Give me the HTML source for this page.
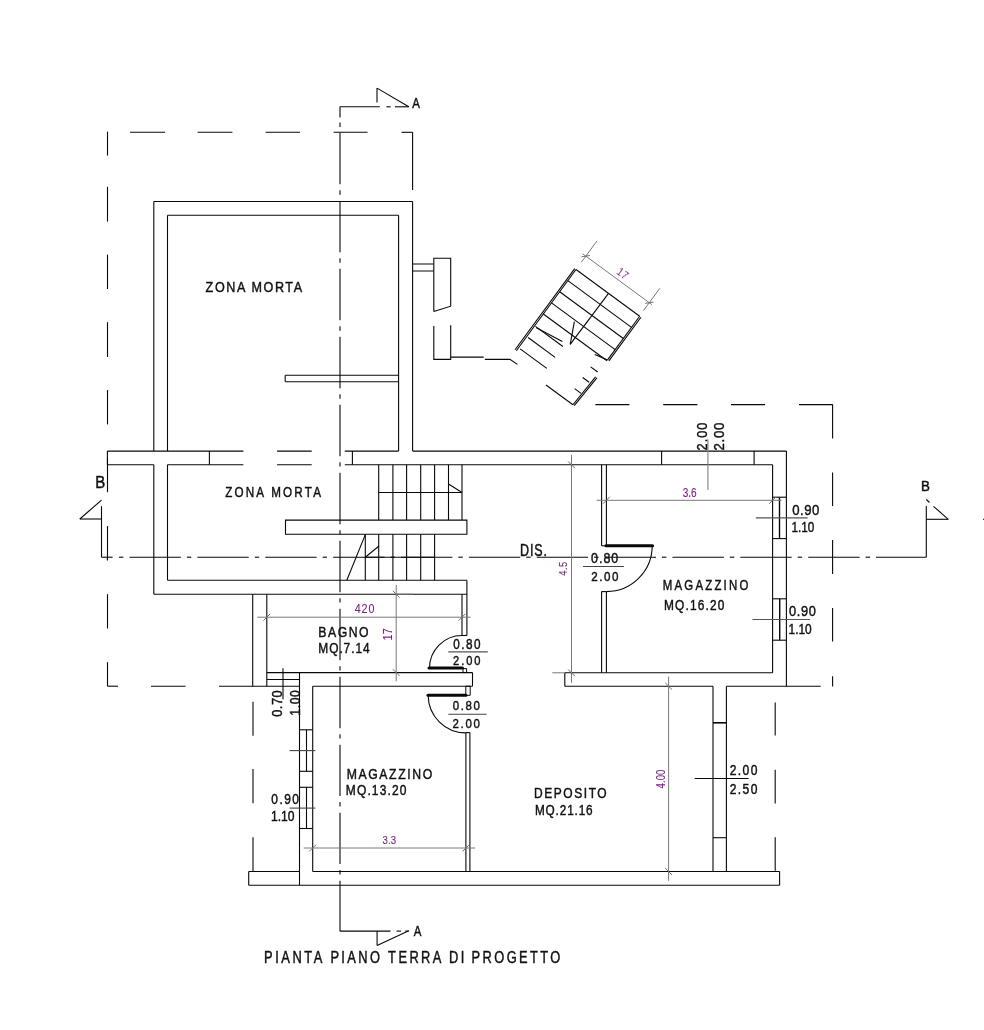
<!DOCTYPE html>
<html><head><meta charset="utf-8"><style>
html,body{margin:0;padding:0;background:#fff;}
svg{display:block;}
text{font-family:"Liberation Sans",sans-serif;}
</style></head><body>
<svg width="984" height="1030" viewBox="0 0 984 1030" stroke-linecap="butt">
<rect width="984" height="1030" fill="#fff"/>
<line x1="107.50" y1="131.60" x2="107.50" y2="155.60" stroke="#080808" stroke-width="1.1"/>
<line x1="107.50" y1="186.80" x2="107.50" y2="221.60" stroke="#080808" stroke-width="1.1"/>
<line x1="107.50" y1="254.60" x2="107.50" y2="289.00" stroke="#080808" stroke-width="1.1"/>
<line x1="107.50" y1="322.20" x2="107.50" y2="357.00" stroke="#080808" stroke-width="1.1"/>
<line x1="107.50" y1="390.00" x2="107.50" y2="424.40" stroke="#080808" stroke-width="1.1"/>
<line x1="107.50" y1="457.60" x2="107.50" y2="492.20" stroke="#080808" stroke-width="1.1"/>
<line x1="107.50" y1="526.00" x2="107.50" y2="560.00" stroke="#080808" stroke-width="1.1"/>
<line x1="107.50" y1="594.20" x2="107.50" y2="628.50" stroke="#080808" stroke-width="1.1"/>
<line x1="107.50" y1="662.20" x2="107.50" y2="686.20" stroke="#080808" stroke-width="1.1"/>
<line x1="130.00" y1="132.30" x2="165.00" y2="132.30" stroke="#080808" stroke-width="1.1"/>
<line x1="197.60" y1="132.30" x2="232.40" y2="132.30" stroke="#080808" stroke-width="1.1"/>
<line x1="265.60" y1="132.30" x2="300.00" y2="132.30" stroke="#080808" stroke-width="1.1"/>
<line x1="333.60" y1="132.30" x2="367.60" y2="132.30" stroke="#080808" stroke-width="1.1"/>
<line x1="401.50" y1="132.30" x2="412.60" y2="132.30" stroke="#080808" stroke-width="1.1"/>
<line x1="412.60" y1="132.30" x2="412.60" y2="190.00" stroke="#080808" stroke-width="1.1"/>
<line x1="107.50" y1="686.20" x2="118.00" y2="686.20" stroke="#080808" stroke-width="1.1"/>
<line x1="151.00" y1="686.20" x2="185.50" y2="686.20" stroke="#080808" stroke-width="1.1"/>
<line x1="219.00" y1="686.20" x2="253.00" y2="686.20" stroke="#080808" stroke-width="1.1"/>
<line x1="595.40" y1="404.60" x2="629.40" y2="404.60" stroke="#080808" stroke-width="1.1"/>
<line x1="663.20" y1="404.60" x2="697.40" y2="404.60" stroke="#080808" stroke-width="1.1"/>
<line x1="731.00" y1="404.60" x2="765.10" y2="404.60" stroke="#080808" stroke-width="1.1"/>
<line x1="799.00" y1="404.60" x2="832.70" y2="404.60" stroke="#080808" stroke-width="1.1"/>
<line x1="832.60" y1="404.60" x2="832.60" y2="438.40" stroke="#080808" stroke-width="1.1"/>
<line x1="832.60" y1="472.40" x2="832.60" y2="506.00" stroke="#080808" stroke-width="1.1"/>
<line x1="832.60" y1="540.00" x2="832.60" y2="574.00" stroke="#080808" stroke-width="1.1"/>
<line x1="832.60" y1="608.10" x2="832.60" y2="641.40" stroke="#080808" stroke-width="1.1"/>
<line x1="832.60" y1="676.20" x2="832.60" y2="686.40" stroke="#080808" stroke-width="1.1"/>
<line x1="786.40" y1="686.20" x2="820.70" y2="686.20" stroke="#080808" stroke-width="1.1"/>
<line x1="253.00" y1="701.70" x2="253.00" y2="735.70" stroke="#080808" stroke-width="1.1"/>
<line x1="253.00" y1="769.10" x2="253.00" y2="803.30" stroke="#080808" stroke-width="1.1"/>
<line x1="253.00" y1="837.20" x2="253.00" y2="871.00" stroke="#080808" stroke-width="1.1"/>
<line x1="775.20" y1="702.50" x2="775.20" y2="735.50" stroke="#080808" stroke-width="1.1"/>
<line x1="775.20" y1="769.80" x2="775.20" y2="803.40" stroke="#080808" stroke-width="1.1"/>
<line x1="775.20" y1="837.20" x2="775.20" y2="870.80" stroke="#080808" stroke-width="1.1"/>
<line x1="340.00" y1="106.80" x2="340.00" y2="117.60" stroke="#080808" stroke-width="1.1"/>
<line x1="340.00" y1="122.50" x2="340.00" y2="127.00" stroke="#080808" stroke-width="1.1"/>
<line x1="340.00" y1="132.90" x2="340.00" y2="184.30" stroke="#080808" stroke-width="1.1"/>
<line x1="340.00" y1="190.30" x2="340.00" y2="194.70" stroke="#080808" stroke-width="1.1"/>
<line x1="340.00" y1="200.88" x2="340.00" y2="252.28" stroke="#080808" stroke-width="1.1"/>
<line x1="340.00" y1="258.28" x2="340.00" y2="262.68" stroke="#080808" stroke-width="1.1"/>
<line x1="340.00" y1="268.86" x2="340.00" y2="320.26" stroke="#080808" stroke-width="1.1"/>
<line x1="340.00" y1="326.26" x2="340.00" y2="330.66" stroke="#080808" stroke-width="1.1"/>
<line x1="340.00" y1="336.84" x2="340.00" y2="388.24" stroke="#080808" stroke-width="1.1"/>
<line x1="340.00" y1="394.24" x2="340.00" y2="398.64" stroke="#080808" stroke-width="1.1"/>
<line x1="340.00" y1="404.82" x2="340.00" y2="456.22" stroke="#080808" stroke-width="1.1"/>
<line x1="340.00" y1="462.22" x2="340.00" y2="466.62" stroke="#080808" stroke-width="1.1"/>
<line x1="340.00" y1="472.80" x2="340.00" y2="524.20" stroke="#080808" stroke-width="1.1"/>
<line x1="340.00" y1="530.20" x2="340.00" y2="534.60" stroke="#080808" stroke-width="1.1"/>
<line x1="340.00" y1="540.78" x2="340.00" y2="592.18" stroke="#080808" stroke-width="1.1"/>
<line x1="340.00" y1="598.18" x2="340.00" y2="602.58" stroke="#080808" stroke-width="1.1"/>
<line x1="340.00" y1="608.76" x2="340.00" y2="660.16" stroke="#080808" stroke-width="1.1"/>
<line x1="340.00" y1="666.16" x2="340.00" y2="670.56" stroke="#080808" stroke-width="1.1"/>
<line x1="340.00" y1="676.74" x2="340.00" y2="728.14" stroke="#080808" stroke-width="1.1"/>
<line x1="340.00" y1="734.14" x2="340.00" y2="738.54" stroke="#080808" stroke-width="1.1"/>
<line x1="340.00" y1="744.72" x2="340.00" y2="796.12" stroke="#080808" stroke-width="1.1"/>
<line x1="340.00" y1="802.12" x2="340.00" y2="806.52" stroke="#080808" stroke-width="1.1"/>
<line x1="340.00" y1="812.70" x2="340.00" y2="864.10" stroke="#080808" stroke-width="1.1"/>
<line x1="340.00" y1="870.10" x2="340.00" y2="874.50" stroke="#080808" stroke-width="1.1"/>
<line x1="340.00" y1="880.68" x2="340.00" y2="931.10" stroke="#080808" stroke-width="1.1"/>
<line x1="339.80" y1="106.80" x2="379.80" y2="106.80" stroke="#080808" stroke-width="1.1"/>
<line x1="386.40" y1="106.80" x2="390.60" y2="106.80" stroke="#080808" stroke-width="1.1"/>
<line x1="395.00" y1="106.80" x2="408.80" y2="106.80" stroke="#080808" stroke-width="1.1"/>
<line x1="377.00" y1="88.10" x2="377.00" y2="102.40" stroke="#080808" stroke-width="1.1"/>
<line x1="377.00" y1="88.10" x2="408.80" y2="106.80" stroke="#080808" stroke-width="1.1"/>
<line x1="339.80" y1="931.10" x2="390.50" y2="931.10" stroke="#080808" stroke-width="1.1"/>
<line x1="396.60" y1="931.10" x2="401.10" y2="931.10" stroke="#080808" stroke-width="1.1"/>
<line x1="405.20" y1="931.10" x2="408.80" y2="931.10" stroke="#080808" stroke-width="1.1"/>
<line x1="377.10" y1="931.10" x2="377.10" y2="945.40" stroke="#080808" stroke-width="1.1"/>
<line x1="377.10" y1="945.40" x2="408.80" y2="930.80" stroke="#080808" stroke-width="1.1"/>
<line x1="101.50" y1="557.20" x2="112.60" y2="557.20" stroke="#080808" stroke-width="1.1"/>
<line x1="118.90" y1="557.20" x2="123.40" y2="557.20" stroke="#080808" stroke-width="1.1"/>
<line x1="129.50" y1="557.20" x2="180.90" y2="557.20" stroke="#080808" stroke-width="1.1"/>
<line x1="186.90" y1="557.20" x2="191.30" y2="557.20" stroke="#080808" stroke-width="1.1"/>
<line x1="197.37" y1="557.20" x2="248.77" y2="557.20" stroke="#080808" stroke-width="1.1"/>
<line x1="254.77" y1="557.20" x2="259.17" y2="557.20" stroke="#080808" stroke-width="1.1"/>
<line x1="265.24" y1="557.20" x2="316.64" y2="557.20" stroke="#080808" stroke-width="1.1"/>
<line x1="322.64" y1="557.20" x2="327.04" y2="557.20" stroke="#080808" stroke-width="1.1"/>
<line x1="333.11" y1="557.20" x2="384.51" y2="557.20" stroke="#080808" stroke-width="1.1"/>
<line x1="390.51" y1="557.20" x2="394.91" y2="557.20" stroke="#080808" stroke-width="1.1"/>
<line x1="400.98" y1="557.20" x2="452.38" y2="557.20" stroke="#080808" stroke-width="1.1"/>
<line x1="458.38" y1="557.20" x2="462.78" y2="557.20" stroke="#080808" stroke-width="1.1"/>
<line x1="468.85" y1="557.20" x2="520.25" y2="557.20" stroke="#080808" stroke-width="1.1"/>
<line x1="526.25" y1="557.20" x2="530.65" y2="557.20" stroke="#080808" stroke-width="1.1"/>
<line x1="536.72" y1="557.20" x2="588.12" y2="557.20" stroke="#080808" stroke-width="1.1"/>
<line x1="594.12" y1="557.20" x2="598.52" y2="557.20" stroke="#080808" stroke-width="1.1"/>
<line x1="604.59" y1="557.20" x2="655.99" y2="557.20" stroke="#080808" stroke-width="1.1"/>
<line x1="661.99" y1="557.20" x2="666.39" y2="557.20" stroke="#080808" stroke-width="1.1"/>
<line x1="672.46" y1="557.20" x2="723.86" y2="557.20" stroke="#080808" stroke-width="1.1"/>
<line x1="729.86" y1="557.20" x2="734.26" y2="557.20" stroke="#080808" stroke-width="1.1"/>
<line x1="740.33" y1="557.20" x2="791.73" y2="557.20" stroke="#080808" stroke-width="1.1"/>
<line x1="797.73" y1="557.20" x2="802.13" y2="557.20" stroke="#080808" stroke-width="1.1"/>
<line x1="808.20" y1="557.20" x2="859.60" y2="557.20" stroke="#080808" stroke-width="1.1"/>
<line x1="865.60" y1="557.20" x2="870.00" y2="557.20" stroke="#080808" stroke-width="1.1"/>
<line x1="876.07" y1="557.20" x2="926.30" y2="557.20" stroke="#080808" stroke-width="1.1"/>
<line x1="101.50" y1="506.20" x2="101.50" y2="557.20" stroke="#080808" stroke-width="1.1"/>
<line x1="79.80" y1="519.00" x2="101.50" y2="519.00" stroke="#080808" stroke-width="1.1"/>
<line x1="79.80" y1="519.00" x2="101.50" y2="500.10" stroke="#080808" stroke-width="1.1"/>
<line x1="926.30" y1="506.10" x2="926.30" y2="557.20" stroke="#080808" stroke-width="1.1"/>
<line x1="926.30" y1="519.30" x2="948.30" y2="519.30" stroke="#080808" stroke-width="1.1"/>
<line x1="926.30" y1="499.50" x2="929.50" y2="502.50" stroke="#080808" stroke-width="1.1"/>
<line x1="933.50" y1="506.30" x2="948.30" y2="519.30" stroke="#080808" stroke-width="1.1"/>
<line x1="983.00" y1="519.30" x2="984.00" y2="519.30" stroke="#080808" stroke-width="1.1"/>
<line x1="107.40" y1="557.20" x2="107.40" y2="560.50" stroke="#080808" stroke-width="1.1"/>
<line x1="153.80" y1="201.50" x2="412.60" y2="201.50" stroke="#080808" stroke-width="1.1"/>
<line x1="153.80" y1="201.50" x2="153.80" y2="451.10" stroke="#080808" stroke-width="1.1"/>
<line x1="412.60" y1="201.50" x2="412.60" y2="451.10" stroke="#080808" stroke-width="1.1"/>
<line x1="167.50" y1="215.30" x2="398.60" y2="215.30" stroke="#080808" stroke-width="1.1"/>
<line x1="167.50" y1="215.30" x2="167.50" y2="451.10" stroke="#080808" stroke-width="1.1"/>
<line x1="398.60" y1="215.30" x2="398.60" y2="451.10" stroke="#080808" stroke-width="1.1"/>
<line x1="285.20" y1="375.30" x2="398.60" y2="375.30" stroke="#080808" stroke-width="1.1"/>
<line x1="285.20" y1="381.70" x2="398.60" y2="381.70" stroke="#080808" stroke-width="1.1"/>
<line x1="285.20" y1="375.30" x2="285.20" y2="381.70" stroke="#080808" stroke-width="1.1"/>
<line x1="412.60" y1="264.00" x2="433.80" y2="264.00" stroke="#080808" stroke-width="1.0"/>
<line x1="412.60" y1="271.00" x2="433.80" y2="271.00" stroke="#080808" stroke-width="1.0"/>
<path d="M433.80,311.60 L433.80,258.30 L450.70,258.30 L450.70,306.20 L433.80,311.60" fill="none" stroke="#080808" stroke-width="1.1"/>
<path d="M433.80,325.90 L433.80,359.40 L450.70,359.40 L450.70,325.20" fill="none" stroke="#080808" stroke-width="1.1"/>
<line x1="450.70" y1="357.10" x2="483.70" y2="357.10" stroke="#080808" stroke-width="1.1"/>
<path d="M484.90,359.40 L509.90,359.40 L517.40,364.40" fill="none" stroke="#080808" stroke-width="1.1"/>
<line x1="107.40" y1="451.10" x2="243.40" y2="451.10" stroke="#080808" stroke-width="1.1"/>
<line x1="277.10" y1="451.10" x2="311.70" y2="451.10" stroke="#080808" stroke-width="1.1"/>
<line x1="344.80" y1="451.10" x2="398.60" y2="451.10" stroke="#080808" stroke-width="1.1"/>
<line x1="412.60" y1="451.10" x2="786.40" y2="451.10" stroke="#080808" stroke-width="1.1"/>
<line x1="107.40" y1="464.80" x2="153.80" y2="464.80" stroke="#080808" stroke-width="1.1"/>
<line x1="167.50" y1="464.80" x2="243.40" y2="464.80" stroke="#080808" stroke-width="1.1"/>
<line x1="277.10" y1="464.80" x2="311.70" y2="464.80" stroke="#080808" stroke-width="1.1"/>
<line x1="344.80" y1="464.80" x2="772.60" y2="464.80" stroke="#080808" stroke-width="1.1"/>
<line x1="107.40" y1="451.10" x2="107.40" y2="464.80" stroke="#080808" stroke-width="1.1"/>
<line x1="209.40" y1="451.10" x2="209.40" y2="464.80" stroke="#080808" stroke-width="1.1"/>
<line x1="352.40" y1="451.10" x2="352.40" y2="464.80" stroke="#080808" stroke-width="1.1"/>
<line x1="661.60" y1="451.10" x2="661.60" y2="464.80" stroke="#080808" stroke-width="1.1"/>
<line x1="754.10" y1="451.10" x2="754.10" y2="464.80" stroke="#080808" stroke-width="1.1"/>
<line x1="786.40" y1="451.10" x2="786.40" y2="686.30" stroke="#080808" stroke-width="1.1"/>
<line x1="772.60" y1="464.80" x2="772.60" y2="672.80" stroke="#080808" stroke-width="1.1"/>
<line x1="153.80" y1="464.80" x2="153.80" y2="594.20" stroke="#080808" stroke-width="1.1"/>
<line x1="167.50" y1="464.80" x2="167.50" y2="580.20" stroke="#080808" stroke-width="1.1"/>
<line x1="167.50" y1="580.20" x2="466.90" y2="580.20" stroke="#080808" stroke-width="1.1"/>
<line x1="153.80" y1="594.20" x2="466.90" y2="594.20" stroke="#080808" stroke-width="1.1"/>
<line x1="466.90" y1="580.20" x2="466.90" y2="635.50" stroke="#080808" stroke-width="1.1"/>
<line x1="378.70" y1="464.80" x2="378.70" y2="520.10" stroke="#080808" stroke-width="1.1"/>
<line x1="392.90" y1="464.80" x2="392.90" y2="520.10" stroke="#080808" stroke-width="1.1"/>
<line x1="406.60" y1="464.80" x2="406.60" y2="520.10" stroke="#080808" stroke-width="1.1"/>
<line x1="420.70" y1="464.80" x2="420.70" y2="520.10" stroke="#080808" stroke-width="1.1"/>
<line x1="434.60" y1="464.80" x2="434.60" y2="520.10" stroke="#080808" stroke-width="1.1"/>
<line x1="448.50" y1="464.80" x2="448.50" y2="520.10" stroke="#080808" stroke-width="1.1"/>
<line x1="462.00" y1="464.80" x2="462.00" y2="520.10" stroke="#080808" stroke-width="1.1"/>
<line x1="378.70" y1="492.50" x2="462.00" y2="492.50" stroke="#080808" stroke-width="1.1"/>
<line x1="448.50" y1="484.00" x2="462.00" y2="492.50" stroke="#080808" stroke-width="1.1"/>
<path d="M285.50,520.10 L466.90,520.10 L466.90,534.20 L285.50,534.20 Z" fill="none" stroke="#080808" stroke-width="1.1"/>
<line x1="365.30" y1="534.20" x2="365.30" y2="580.20" stroke="#080808" stroke-width="1.1"/>
<line x1="378.70" y1="534.20" x2="378.70" y2="580.20" stroke="#080808" stroke-width="1.1"/>
<line x1="392.90" y1="534.20" x2="392.90" y2="580.20" stroke="#080808" stroke-width="1.1"/>
<line x1="406.60" y1="534.20" x2="406.60" y2="580.20" stroke="#080808" stroke-width="1.1"/>
<line x1="420.70" y1="534.20" x2="420.70" y2="580.20" stroke="#080808" stroke-width="1.1"/>
<line x1="434.60" y1="534.20" x2="434.60" y2="580.20" stroke="#080808" stroke-width="1.1"/>
<line x1="365.30" y1="557.20" x2="434.60" y2="557.20" stroke="#080808" stroke-width="1.1"/>
<line x1="365.30" y1="534.60" x2="346.80" y2="580.20" stroke="#080808" stroke-width="1.1"/>
<line x1="365.30" y1="557.20" x2="378.70" y2="546.30" stroke="#080808" stroke-width="1.1"/>
<line x1="252.70" y1="594.20" x2="252.70" y2="686.20" stroke="#080808" stroke-width="1.1"/>
<line x1="266.80" y1="594.20" x2="266.80" y2="686.20" stroke="#080808" stroke-width="1.1"/>
<line x1="266.80" y1="672.60" x2="472.50" y2="672.60" stroke="#080808" stroke-width="1.1"/>
<line x1="266.80" y1="679.50" x2="299.50" y2="679.50" stroke="#080808" stroke-width="1.1"/>
<line x1="253.00" y1="686.20" x2="299.50" y2="686.20" stroke="#080808" stroke-width="1.1"/>
<line x1="299.50" y1="672.60" x2="299.50" y2="885.20" stroke="#080808" stroke-width="1.1"/>
<line x1="312.70" y1="686.20" x2="312.70" y2="871.50" stroke="#080808" stroke-width="1.1"/>
<line x1="312.70" y1="686.20" x2="472.50" y2="686.20" stroke="#080808" stroke-width="1.1"/>
<line x1="472.50" y1="672.60" x2="472.50" y2="686.20" stroke="#080808" stroke-width="1.1"/>
<line x1="462.00" y1="594.20" x2="462.00" y2="635.50" stroke="#080808" stroke-width="1.1"/>
<line x1="462.00" y1="635.50" x2="466.90" y2="635.50" stroke="#080808" stroke-width="1.1"/>
<path d="M462.00,635.50 A32.50,32.50 0 0 0 429.50,668.00" fill="none" stroke="#080808" stroke-width="1.1"/>
<line x1="429.00" y1="668.00" x2="462.50" y2="668.00" stroke="#080808" stroke-width="3.0" stroke-linecap="round"/>
<path d="M463.00,668.60 L466.60,668.60 L466.60,672.60 L463.00,672.60 Z" fill="none" stroke="#080808" stroke-width="1.0"/>
<path d="M465.80,686.20 L470.20,686.20 L470.20,695.30 L465.80,695.30 Z" fill="none" stroke="#080808" stroke-width="1.0"/>
<line x1="428.00" y1="695.30" x2="466.00" y2="695.30" stroke="#080808" stroke-width="3.0" stroke-linecap="round"/>
<path d="M428.20,695.30 A37.60,37.60 0 0 0 465.80,732.90" fill="none" stroke="#080808" stroke-width="1.1"/>
<line x1="465.90" y1="732.60" x2="465.90" y2="871.50" stroke="#080808" stroke-width="1.1"/>
<line x1="469.90" y1="732.60" x2="469.90" y2="871.50" stroke="#080808" stroke-width="1.1"/>
<line x1="465.90" y1="732.60" x2="469.90" y2="732.60" stroke="#080808" stroke-width="1.1"/>
<line x1="299.50" y1="729.80" x2="312.70" y2="729.80" stroke="#080808" stroke-width="1.1"/>
<line x1="299.50" y1="771.30" x2="312.70" y2="771.30" stroke="#080808" stroke-width="1.1"/>
<line x1="306.50" y1="729.80" x2="306.50" y2="771.30" stroke="#080808" stroke-width="1.1"/>
<line x1="299.50" y1="787.30" x2="312.70" y2="787.30" stroke="#080808" stroke-width="1.1"/>
<line x1="299.50" y1="828.50" x2="312.70" y2="828.50" stroke="#080808" stroke-width="1.1"/>
<line x1="306.50" y1="787.30" x2="306.50" y2="828.50" stroke="#080808" stroke-width="1.1"/>
<line x1="289.60" y1="750.60" x2="315.30" y2="750.60" stroke="#444" stroke-width="1.1"/>
<line x1="289.60" y1="808.10" x2="315.30" y2="808.10" stroke="#444" stroke-width="1.1"/>
<line x1="283.00" y1="668.20" x2="283.00" y2="699.20" stroke="#080808" stroke-width="1.1"/>
<line x1="248.70" y1="871.50" x2="299.50" y2="871.50" stroke="#080808" stroke-width="1.1"/>
<line x1="312.70" y1="871.50" x2="779.60" y2="871.50" stroke="#080808" stroke-width="1.1"/>
<line x1="248.70" y1="885.20" x2="779.60" y2="885.20" stroke="#080808" stroke-width="1.1"/>
<line x1="248.70" y1="871.50" x2="248.70" y2="885.20" stroke="#080808" stroke-width="1.1"/>
<line x1="779.60" y1="871.50" x2="779.60" y2="885.20" stroke="#080808" stroke-width="1.1"/>
<line x1="601.60" y1="464.80" x2="601.60" y2="545.80" stroke="#080808" stroke-width="1.1"/>
<line x1="606.40" y1="464.80" x2="606.40" y2="545.80" stroke="#080808" stroke-width="1.1"/>
<line x1="601.60" y1="545.80" x2="606.40" y2="545.80" stroke="#080808" stroke-width="1.1"/>
<line x1="601.60" y1="591.60" x2="601.60" y2="672.80" stroke="#080808" stroke-width="1.1"/>
<line x1="606.40" y1="591.60" x2="606.40" y2="672.80" stroke="#080808" stroke-width="1.1"/>
<line x1="601.60" y1="591.60" x2="606.40" y2="591.60" stroke="#080808" stroke-width="1.1"/>
<line x1="606.00" y1="545.80" x2="652.60" y2="545.80" stroke="#080808" stroke-width="3.0" stroke-linecap="round"/>
<path d="M652.20,545.80 A45.80,45.80 0 0 1 606.40,591.60" fill="none" stroke="#080808" stroke-width="1.1"/>
<line x1="564.80" y1="672.80" x2="772.60" y2="672.80" stroke="#080808" stroke-width="1.1"/>
<line x1="564.80" y1="686.20" x2="713.00" y2="686.20" stroke="#080808" stroke-width="1.1"/>
<line x1="726.40" y1="686.20" x2="786.40" y2="686.20" stroke="#080808" stroke-width="1.1"/>
<line x1="564.80" y1="672.80" x2="564.80" y2="686.20" stroke="#080808" stroke-width="1.1"/>
<line x1="772.60" y1="497.20" x2="786.40" y2="497.20" stroke="#080808" stroke-width="1.1"/>
<line x1="772.60" y1="538.60" x2="786.40" y2="538.60" stroke="#080808" stroke-width="1.1"/>
<line x1="779.50" y1="497.20" x2="779.50" y2="538.60" stroke="#080808" stroke-width="1.4"/>
<line x1="772.60" y1="598.80" x2="786.40" y2="598.80" stroke="#080808" stroke-width="1.1"/>
<line x1="772.60" y1="640.20" x2="786.40" y2="640.20" stroke="#080808" stroke-width="1.1"/>
<line x1="779.70" y1="598.80" x2="779.70" y2="640.20" stroke="#080808" stroke-width="1.4"/>
<line x1="755.80" y1="517.90" x2="807.70" y2="517.90" stroke="#555" stroke-width="1.2"/>
<line x1="752.50" y1="619.50" x2="809.90" y2="619.50" stroke="#555" stroke-width="1.2"/>
<line x1="707.90" y1="439.30" x2="707.90" y2="490.00" stroke="#808080" stroke-width="1.1"/>
<line x1="713.00" y1="686.20" x2="713.00" y2="871.50" stroke="#080808" stroke-width="1.1"/>
<line x1="726.40" y1="686.20" x2="726.40" y2="871.50" stroke="#080808" stroke-width="1.1"/>
<line x1="713.00" y1="722.80" x2="726.40" y2="722.80" stroke="#080808" stroke-width="1.6"/>
<line x1="713.00" y1="837.70" x2="726.40" y2="837.70" stroke="#080808" stroke-width="1.1"/>
<line x1="694.60" y1="778.50" x2="748.70" y2="778.50" stroke="#080808" stroke-width="1.1"/>
<line x1="583.00" y1="566.50" x2="623.90" y2="566.50" stroke="#444" stroke-width="1.1"/>
<line x1="448.30" y1="651.90" x2="487.80" y2="651.90" stroke="#555" stroke-width="1.2"/>
<line x1="448.30" y1="714.30" x2="486.60" y2="714.30" stroke="#444" stroke-width="1.1"/>
<line x1="596.60" y1="500.30" x2="781.60" y2="500.30" stroke="#787878" stroke-width="1.0"/>
<line x1="603.00" y1="503.70" x2="609.80" y2="496.90" stroke="#707070" stroke-width="1.0"/>
<line x1="769.20" y1="503.70" x2="776.00" y2="496.90" stroke="#707070" stroke-width="1.0"/>
<line x1="571.50" y1="454.90" x2="571.50" y2="682.70" stroke="#787878" stroke-width="1.0"/>
<line x1="552.30" y1="672.80" x2="564.80" y2="672.80" stroke="#787878" stroke-width="1.0"/>
<line x1="568.10" y1="461.40" x2="574.90" y2="468.20" stroke="#707070" stroke-width="1.0"/>
<line x1="568.10" y1="669.40" x2="574.90" y2="676.20" stroke="#707070" stroke-width="1.0"/>
<line x1="257.20" y1="617.20" x2="470.60" y2="617.20" stroke="#787878" stroke-width="1.0"/>
<line x1="263.40" y1="620.60" x2="270.20" y2="613.80" stroke="#707070" stroke-width="1.0"/>
<line x1="458.60" y1="620.60" x2="465.40" y2="613.80" stroke="#707070" stroke-width="1.0"/>
<line x1="396.20" y1="584.90" x2="396.20" y2="681.20" stroke="#787878" stroke-width="1.0"/>
<line x1="396.20" y1="594.20" x2="413.00" y2="594.20" stroke="#787878" stroke-width="1.0"/>
<line x1="392.80" y1="590.80" x2="399.60" y2="597.60" stroke="#707070" stroke-width="1.0"/>
<line x1="392.80" y1="669.20" x2="399.60" y2="676.00" stroke="#707070" stroke-width="1.0"/>
<line x1="303.70" y1="848.00" x2="475.10" y2="848.00" stroke="#787878" stroke-width="1.0"/>
<line x1="309.30" y1="851.40" x2="316.10" y2="844.60" stroke="#707070" stroke-width="1.0"/>
<line x1="462.50" y1="851.40" x2="469.30" y2="844.60" stroke="#707070" stroke-width="1.0"/>
<line x1="668.60" y1="676.60" x2="668.60" y2="880.80" stroke="#787878" stroke-width="1.0"/>
<line x1="665.20" y1="682.80" x2="672.00" y2="689.60" stroke="#707070" stroke-width="1.0"/>
<line x1="665.20" y1="868.10" x2="672.00" y2="874.90" stroke="#707070" stroke-width="1.0"/>
<line x1="576.00" y1="269.50" x2="516.33" y2="350.74" stroke="#080808" stroke-width="1.1"/>
<line x1="574.71" y1="268.55" x2="515.04" y2="349.79" stroke="#080808" stroke-width="1.1"/>
<line x1="639.67" y1="316.27" x2="607.58" y2="359.95" stroke="#080808" stroke-width="1.1"/>
<line x1="640.96" y1="317.22" x2="608.87" y2="360.90" stroke="#080808" stroke-width="1.1"/>
<line x1="595.59" y1="376.95" x2="572.94" y2="404.74" stroke="#080808" stroke-width="1.1"/>
<line x1="596.88" y1="377.90" x2="574.23" y2="405.68" stroke="#080808" stroke-width="1.1"/>
<line x1="576.00" y1="269.50" x2="639.67" y2="316.27" stroke="#080808" stroke-width="1.1"/>
<line x1="567.83" y1="280.62" x2="631.50" y2="327.39" stroke="#080808" stroke-width="1.1"/>
<line x1="559.66" y1="291.74" x2="623.33" y2="338.51" stroke="#080808" stroke-width="1.1"/>
<line x1="551.49" y1="302.87" x2="615.16" y2="349.63" stroke="#080808" stroke-width="1.1"/>
<line x1="543.32" y1="313.99" x2="606.99" y2="360.76" stroke="#080808" stroke-width="1.1"/>
<line x1="608.48" y1="293.36" x2="570.22" y2="344.42" stroke="#080808" stroke-width="1.1"/>
<line x1="574.38" y1="321.54" x2="570.22" y2="344.42" stroke="#080808" stroke-width="1.1"/>
<line x1="594.81" y1="354.54" x2="607.58" y2="359.95" stroke="#080808" stroke-width="1.1"/>
<line x1="535.48" y1="326.35" x2="562.88" y2="346.47" stroke="#080808" stroke-width="1.1"/>
<line x1="536.34" y1="327.72" x2="562.34" y2="341.48" stroke="#080808" stroke-width="1.1"/>
<line x1="528.11" y1="337.56" x2="555.11" y2="357.39" stroke="#080808" stroke-width="1.1"/>
<line x1="520.19" y1="348.86" x2="546.78" y2="368.40" stroke="#080808" stroke-width="1.1"/>
<line x1="590.61" y1="366.84" x2="597.70" y2="372.05" stroke="#080808" stroke-width="1.1"/>
<line x1="582.65" y1="377.50" x2="589.18" y2="382.29" stroke="#080808" stroke-width="1.1"/>
<line x1="574.62" y1="388.60" x2="581.07" y2="393.34" stroke="#080808" stroke-width="1.1"/>
<line x1="545.97" y1="385.04" x2="572.94" y2="404.74" stroke="#080808" stroke-width="1.1"/>
<line x1="582.60" y1="253.75" x2="651.91" y2="304.67" stroke="#787878" stroke-width="1.0"/>
<line x1="581.21" y1="262.41" x2="597.02" y2="240.89" stroke="#787878" stroke-width="1.0"/>
<line x1="643.57" y1="310.45" x2="659.85" y2="288.29" stroke="#787878" stroke-width="1.0"/>
<line x1="581.63" y1="256.76" x2="590.02" y2="255.48" stroke="#707070" stroke-width="1.0"/>
<line x1="645.06" y1="303.35" x2="653.45" y2="302.07" stroke="#707070" stroke-width="1.0"/>
<g opacity="0.999">
<text transform="translate(205.61,292.00) scale(0.820,1)" font-size="15.36" letter-spacing="1.96" fill="#111" stroke="#111" stroke-width="0.45">ZONA MORTA</text>
<text transform="translate(225.14,496.60) scale(0.820,1)" font-size="14.22" letter-spacing="2.69" fill="#111" stroke="#111" stroke-width="0.45">ZONA MORTA</text>
<text transform="translate(520.12,556.00) scale(0.800,1)" font-size="15.64" letter-spacing="1.07" fill="#111" stroke="#111" stroke-width="0.45">DIS.</text>
<text transform="translate(662.81,590.00) scale(0.820,1)" font-size="13.94" letter-spacing="2.68" fill="#111" stroke="#111" stroke-width="0.45">MAGAZZINO</text>
<text transform="translate(663.97,610.00) scale(0.820,1)" font-size="14.51" letter-spacing="1.43" fill="#111" stroke="#111" stroke-width="0.45">MQ.16.20</text>
<text transform="translate(318.34,637.30) scale(0.820,1)" font-size="14.93" letter-spacing="1.82" fill="#111" stroke="#111" stroke-width="0.45">BAGNO</text>
<text transform="translate(318.37,653.20) scale(0.820,1)" font-size="14.51" letter-spacing="1.14" fill="#111" stroke="#111" stroke-width="0.45">MQ.7.14</text>
<text transform="translate(346.64,779.00) scale(0.820,1)" font-size="14.93" letter-spacing="1.95" fill="#111" stroke="#111" stroke-width="0.45">MAGAZZINO</text>
<text transform="translate(345.86,795.40) scale(0.820,1)" font-size="14.65" letter-spacing="1.36" fill="#111" stroke="#111" stroke-width="0.45">MQ.13.20</text>
<text transform="translate(533.96,797.80) scale(0.820,1)" font-size="14.65" letter-spacing="1.90" fill="#111" stroke="#111" stroke-width="0.45">DEPOSITO</text>
<text transform="translate(534.88,814.80) scale(0.820,1)" font-size="14.36" letter-spacing="1.06" fill="#111" stroke="#111" stroke-width="0.45">MQ.21.16</text>
<text transform="translate(264.09,962.80) scale(0.780,1)" font-size="16.50" letter-spacing="3.29" fill="#111" stroke="#111" stroke-width="0.45">PIANTA</text>
<text transform="translate(330.39,962.80) scale(0.780,1)" font-size="16.50" letter-spacing="3.05" fill="#111" stroke="#111" stroke-width="0.45">PIANO</text>
<text transform="translate(388.10,962.80) scale(0.780,1)" font-size="16.50" letter-spacing="3.12" fill="#111" stroke="#111" stroke-width="0.45">TERRA</text>
<text transform="translate(449.09,962.80) scale(0.780,1)" font-size="16.50" letter-spacing="2.95" fill="#111" stroke="#111" stroke-width="0.45">DI</text>
<text transform="translate(471.59,962.80) scale(0.780,1)" font-size="16.50" letter-spacing="3.07" fill="#111" stroke="#111" stroke-width="0.45">PROGETTO</text>
<text transform="translate(412.30,107.60) scale(0.782,1)" font-size="14.65" letter-spacing="0.00" fill="#111" stroke="#111" stroke-width="0.45">A</text>
<text transform="translate(413.80,935.90) scale(0.798,1)" font-size="14.36" letter-spacing="0.00" fill="#111" stroke="#111" stroke-width="0.45">A</text>
<text transform="translate(95.23,488.00) scale(0.958,1)" font-size="15.64" letter-spacing="0.00" fill="#111" stroke="#111" stroke-width="0.45">B</text>
<text transform="translate(920.96,490.70) scale(0.958,1)" font-size="13.94" letter-spacing="0.00" fill="#111" stroke="#111" stroke-width="0.45">B</text>
<text transform="translate(591.11,562.70) scale(0.850,1)" font-size="14.65" letter-spacing="1.16" fill="#111" stroke="#111" stroke-width="0.45">0.80</text>
<text transform="translate(591.16,580.80) scale(0.850,1)" font-size="13.65" letter-spacing="1.86" fill="#111" stroke="#111" stroke-width="0.45">2.00</text>
<text transform="translate(453.13,648.70) scale(0.850,1)" font-size="13.80" letter-spacing="1.82" fill="#111" stroke="#111" stroke-width="0.45">0.80</text>
<text transform="translate(452.98,665.40) scale(0.850,1)" font-size="13.08" letter-spacing="2.33" fill="#111" stroke="#111" stroke-width="0.45">2.00</text>
<text transform="translate(452.64,710.40) scale(0.850,1)" font-size="13.51" letter-spacing="1.96" fill="#111" stroke="#111" stroke-width="0.45">0.80</text>
<text transform="translate(452.46,728.20) scale(0.850,1)" font-size="13.51" letter-spacing="2.03" fill="#111" stroke="#111" stroke-width="0.45">2.00</text>
<text transform="translate(792.29,515.00) scale(0.850,1)" font-size="15.50" letter-spacing="0.51" fill="#111" stroke="#111" stroke-width="0.45">0.90</text>
<text transform="translate(791.57,531.70) scale(0.778,1)" font-size="15.08" letter-spacing="0.00" fill="#111" stroke="#111" stroke-width="0.45">1.10</text>
<text transform="translate(788.90,615.90) scale(0.850,1)" font-size="15.08" letter-spacing="0.85" fill="#111" stroke="#111" stroke-width="0.45">0.90</text>
<text transform="translate(788.55,633.70) scale(0.831,1)" font-size="14.36" letter-spacing="0.00" fill="#111" stroke="#111" stroke-width="0.45">1.10</text>
<text transform="translate(271.33,804.00) scale(0.850,1)" font-size="14.08" letter-spacing="1.68" fill="#111" stroke="#111" stroke-width="0.45">0.90</text>
<text transform="translate(270.94,820.80) scale(0.834,1)" font-size="14.51" letter-spacing="0.00" fill="#111" stroke="#111" stroke-width="0.45">1.10</text>
<text transform="translate(729.63,775.00) scale(0.850,1)" font-size="14.22" letter-spacing="1.70" fill="#111" stroke="#111" stroke-width="0.45">2.00</text>
<text transform="translate(729.63,793.60) scale(0.850,1)" font-size="14.22" letter-spacing="1.70" fill="#111" stroke="#111" stroke-width="0.45">2.50</text>
<text transform="translate(281.70,716.80) rotate(-90) scale(0.850,1)" font-size="15.22" letter-spacing="0.57" fill="#111" stroke="#111" stroke-width="0.45">0.70</text>
<text transform="translate(299.50,715.66) rotate(-90) scale(0.850,1)" font-size="14.36" letter-spacing="0.67" fill="#111" stroke="#111" stroke-width="0.45">1.00</text>
<text transform="translate(707.10,450.40) rotate(-90) scale(0.850,1)" font-size="14.93" letter-spacing="1.18" fill="#111" stroke="#111" stroke-width="0.45">2.00</text>
<text transform="translate(724.10,450.42) rotate(-90) scale(0.850,1)" font-size="15.50" letter-spacing="0.82" fill="#111" stroke="#111" stroke-width="0.45">2.00</text>
<text transform="translate(682.68,496.80) scale(0.825,1)" font-size="12.23" letter-spacing="0.00" fill="#7a2582" stroke="#7a2582" stroke-width="0.12">3.6</text>
<text transform="translate(354.73,612.70) scale(0.900,1)" font-size="11.95" letter-spacing="0.94" fill="#7a2582" stroke="#7a2582" stroke-width="0.12">420</text>
<text transform="translate(382.60,844.10) scale(0.826,1)" font-size="11.66" letter-spacing="0.00" fill="#7a2582" stroke="#7a2582" stroke-width="0.12">3.3</text>
<text transform="translate(567.30,575.75) rotate(-90) scale(0.900,1)" font-size="10.38" letter-spacing="0.52" fill="#7a2582" stroke="#7a2582" stroke-width="0.12">4.5</text>
<text transform="translate(392.40,640.47) rotate(-90) scale(0.900,1)" font-size="11.95" letter-spacing="0.16" fill="#7a2582" stroke="#7a2582" stroke-width="0.12">17</text>
<text transform="translate(664.70,788.45) rotate(-90) scale(0.803,1)" font-size="12.09" letter-spacing="0.00" fill="#7a2582" stroke="#7a2582" stroke-width="0.12">4.00</text>
<text transform="translate(620.37,276.66) rotate(36.3) scale(0.9,1)" font-size="11.5" fill="#7a2582" text-anchor="middle">17</text>
</g>
</svg>
</body></html>
